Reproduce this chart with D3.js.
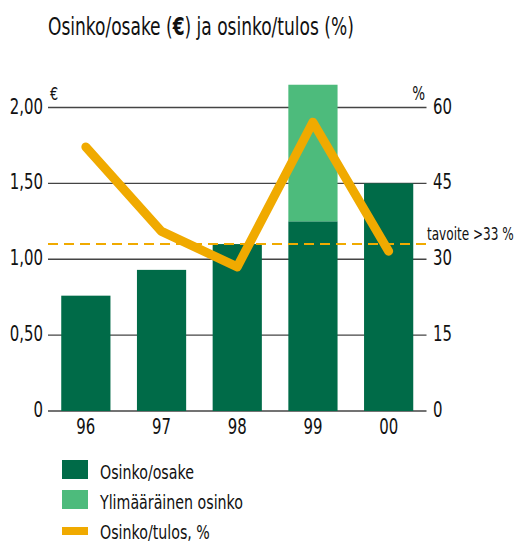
<!DOCTYPE html>
<html>
<head>
<meta charset="utf-8">
<script src="https://cdn.jsdelivr.net/npm/d3@7"></script>
<style>
  body { margin: 0; background: #fff; }
  svg text { font-family: "DejaVu Sans Condensed", "DejaVu Sans", sans-serif; fill: #111; }
</style>
</head>
<body>
<div id="draw"></div>
<script>
var W = 517, H = 542;

// data
var years = ['96', '97', '98', '99', '00'];
var dividend = [0.76, 0.93, 1.10, 1.25, 1.50];     // osinko/osake, €
var extra = [0, 0, 0, 0.90, 0];                   // ylimääräinen osinko, €
var payout = [52.2, 35.5, 28.5, 57.1, 31.6];      // osinko/tulos, %
var target = 33;
var leftTicks = [0, 0.5, 1.0, 1.5, 2.0];
var rightTicks = [0, 15, 30, 45, 60];
var legendLabels = ['Osinko/osake', 'Ylimääräinen osinko', 'Osinko/tulos, %'];

var darkGreen = '#006b48', lightGreen = '#4dbb7c', orange = '#f0aa00';

var svg = d3.select('#draw').append('svg')
  .attr('width', W)
  .attr('height', H);

var x = d3.scaleBand()
  .domain(years)
  .range([48, 426.5])
  .paddingInner(0.35)
  .paddingOuter(0.175);

var yL = d3.scaleLinear().domain([0, 2]).range([411, 107.5]);
var yR = d3.scaleLinear().domain([0, 60]).range([411, 107.5]);

// the original face is a narrow one, so squeeze text horizontally
var k = 1;
function squeeze(sel, fx, fy) {
  sel.attr('transform', function(d, i) {
    return 'translate(' + fx(d, i) + ',' + fy(d, i) + ') scale(' + k + ',1)';
  });
}

// title
var title = svg.append('text')
  .attr('font-size', 24)
  .html('Osinko/osake (<tspan font-weight="bold">€</tspan>) ja osinko/tulos (%)');
k = 306 / title.node().getComputedTextLength();
squeeze(title, function() { return 48; }, function() { return 35; });

// grid lines
svg.append('g').selectAll('line')
  .data(leftTicks)
  .enter().append('line')
  .attr('x1', 48).attr('x2', 426.5)
  .attr('y1', function(d) { return yL(d); })
  .attr('y2', function(d) { return yL(d); })
  .attr('stroke', '#444')
  .attr('stroke-width', 1.3);

// left axis labels
squeeze(svg.append('g').selectAll('text')
  .data(leftTicks)
  .enter().append('text')
  .attr('text-anchor', 'end')
  .attr('font-size', 21)
  .text(function(d) { return d === 0 ? '0' : d3.format('.2f')(d).replace('.', ','); }),
  function() { return 43; }, function(d) { return yL(d) + 6; });

// right axis labels
squeeze(svg.append('g').selectAll('text')
  .data(rightTicks)
  .enter().append('text')
  .attr('font-size', 21)
  .text(function(d) { return d; }),
  function() { return 433; }, function(d) { return yR(d) + 6; });

// unit labels
squeeze(svg.append('text').attr('font-size', 18).text('€'),
  function() { return 50; }, function() { return 100; });
squeeze(svg.append('text').attr('font-size', 19).attr('text-anchor', 'end').text('%'),
  function() { return 425; }, function() { return 100; });

// bars
svg.append('g').selectAll('rect')
  .data(dividend)
  .enter().append('rect')
  .attr('x', function(d, i) { return x(years[i]); })
  .attr('width', x.bandwidth())
  .attr('y', function(d) { return yL(d); })
  .attr('height', function(d) { return yL(0) - yL(d); })
  .attr('fill', darkGreen);

svg.append('g').selectAll('rect')
  .data(extra)
  .enter().append('rect')
  .attr('x', function(d, i) { return x(years[i]); })
  .attr('width', x.bandwidth())
  .attr('y', function(d, i) { return yL(dividend[i] + d); })
  .attr('height', function(d, i) { return yL(dividend[i]) - yL(dividend[i] + d); })
  .attr('fill', lightGreen);

// x labels
squeeze(svg.append('g').selectAll('text')
  .data(years)
  .enter().append('text')
  .attr('text-anchor', 'middle')
  .attr('font-size', 21)
  .text(function(d) { return d; }),
  function(d) { return x(d) + x.bandwidth() / 2; }, function() { return 434; });

// target line
svg.append('line')
  .attr('x1', 48).attr('x2', 426.5)
  .attr('y1', yR(target)).attr('y2', yR(target))
  .attr('stroke', orange)
  .attr('stroke-width', 2)
  .attr('stroke-dasharray', '10,6');

squeeze(svg.append('text')
  .attr('font-size', 17)
  .text('tavoite >' + target + ' %'),
  function() { return 427; }, function() { return 240; });

// payout line
var line = d3.line()
  .x(function(d, i) { return x(years[i]) + x.bandwidth() / 2; })
  .y(function(d) { return yR(d); });

svg.append('path')
  .datum(payout)
  .attr('d', line)
  .attr('fill', 'none')
  .attr('stroke', orange)
  .attr('stroke-width', 9)
  .attr('stroke-linecap', 'round')
  .attr('stroke-linejoin', 'round');

// legend
var lg = svg.append('g').attr('transform', 'translate(62,460)');
lg.append('rect').attr('x', 0).attr('y', 0).attr('width', 26).attr('height', 19).attr('fill', darkGreen);
lg.append('rect').attr('x', 0).attr('y', 30).attr('width', 26).attr('height', 19).attr('fill', lightGreen);
lg.append('rect').attr('x', 0).attr('y', 67).attr('width', 26).attr('height', 8).attr('fill', orange);
squeeze(lg.selectAll('text.leg')
  .data(legendLabels)
  .enter().append('text')
  .attr('class', 'leg')
  .attr('font-size', 20)
  .text(function(d) { return d; }),
  function() { return 38; }, function(d, i) { return 19 + i * 30; });
</script>
</body>
</html>
